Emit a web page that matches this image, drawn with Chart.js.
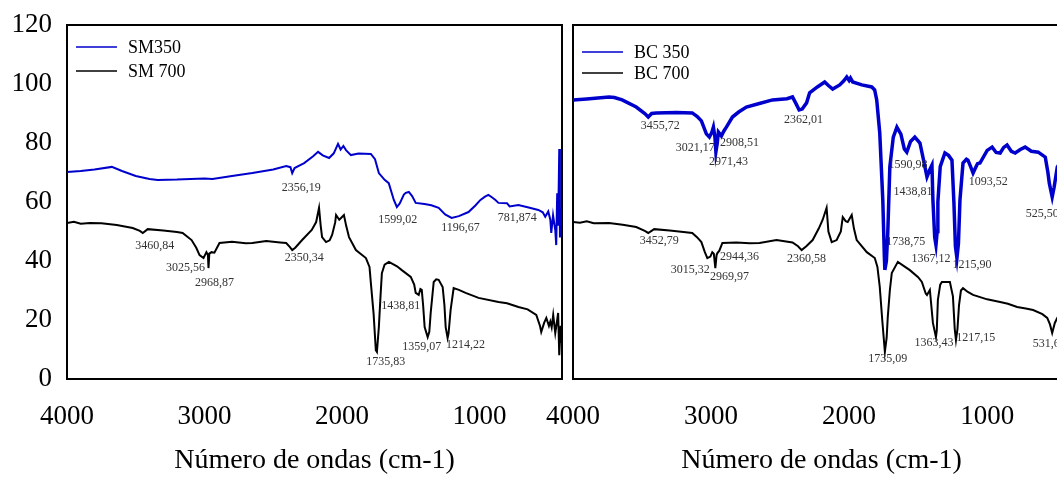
<!DOCTYPE html>
<html>
<head>
<meta charset="utf-8">
<script src="https://cdn.jsdelivr.net/npm/chart.js@4.4.1/dist/chart.umd.min.js"></script>
<style>
  html, body { margin: 0; padding: 0; background: #fff; overflow: hidden; }
  body { width: 1057px; height: 477px; position: relative; }
  #smChart { position: absolute; left: 0; top: 0; }
  #bcChart { position: absolute; left: 530px; top: 0; }
</style>
</head>
<body>
<canvas id="smChart" width="575" height="477"></canvas>
<canvas id="bcChart" width="560" height="477"></canvas>
<script>
const xTicks = [1000, 2000, 3000, 4000];
const yTicks = [0, 20, 40, 60, 80, 100, 120];
const axisTitle = "Número de ondas (cm-1)";

// SM350 (blue, left panel)
const sm350Wn = [4000, 3900, 3800, 3674, 3600, 3500, 3400, 3340, 3200, 3000, 2942, 2800, 2652, 2500, 2406, 2375, 2362, 2345, 2300, 2275, 2210, 2174, 2140, 2094, 2060, 2029, 2010, 1990, 1971, 1935, 1880, 1790, 1760, 1732, 1690, 1660, 1623, 1601, 1580, 1550, 1536, 1514, 1490, 1464, 1400, 1350, 1297, 1250, 1203, 1150, 1080, 1030, 993, 960, 935, 910, 884, 862, 800, 781, 717, 650, 572, 540, 522, 500, 485, 478, 465, 449, 442, 435, 428, 420, 415, 405, 400];
const sm350T = [70.2, 70.5, 71.0, 71.9, 70.5, 68.8, 67.8, 67.5, 67.6, 68.0, 67.8, 68.8, 69.8, 71.0, 72.2, 71.8, 69.8, 71.5, 72.6, 73.2, 75.5, 77.0, 75.8, 74.9, 76.5, 79.7, 77.8, 79.0, 77.6, 75.9, 76.4, 76.3, 74.5, 69.8, 67.5, 66.4, 60.7, 58.3, 59.5, 62.5, 63.1, 63.4, 62.0, 59.7, 59.3, 58.9, 58.0, 55.8, 54.6, 55.2, 56.6, 58.8, 60.7, 61.8, 62.4, 61.6, 60.7, 59.7, 59.6, 58.5, 59.0, 58.2, 57.3, 56.5, 55.0, 56.8, 54.0, 49.5, 55.5, 50.5, 45.4, 63.0, 52.0, 78.0, 48.0, 58.0, 52.0];

// SM 700 (black, left panel)
const sm700Wn = [4000, 3950, 3900, 3833, 3750, 3638, 3522, 3470, 3449, 3413, 3300, 3200, 3159, 3094, 3060, 3036, 3007, 2986, 2975, 2971, 2965, 2949, 2928, 2891, 2800, 2700, 2652, 2551, 2450, 2406, 2380, 2362, 2340, 2290, 2220, 2188, 2167, 2155, 2145, 2116, 2090, 2072, 2050, 2043, 2020, 2007, 1986, 1970, 1949, 1899, 1826, 1800, 1790, 1770, 1754, 1746, 1732, 1720, 1710, 1690, 1659, 1600, 1565, 1500, 1475, 1464, 1442, 1430, 1420, 1410, 1399, 1377, 1365, 1355, 1333, 1315, 1297, 1268, 1255, 1246, 1232, 1225, 1210, 1188, 1150, 1101, 1007, 862, 800, 717, 650, 587, 560, 551, 530, 514, 495, 485, 475, 464, 449, 435, 428, 420, 410, 400];
const sm700T = [52.9, 53.3, 52.6, 52.9, 52.8, 52.2, 51.2, 50.2, 49.5, 50.8, 50.3, 49.8, 49.5, 47.1, 44.5, 42.0, 41.0, 43.0, 42.0, 37.6, 42.5, 43.0, 42.8, 46.1, 46.5, 46.0, 46.1, 46.8, 46.3, 46.1, 44.8, 43.7, 44.5, 47.1, 50.5, 53.2, 58.0, 52.0, 48.1, 46.4, 47.0, 48.8, 53.0, 55.6, 54.0, 54.6, 55.6, 52.0, 48.1, 43.7, 41.0, 38.0, 32.5, 22.0, 9.8, 9.2, 17.6, 28.0, 35.9, 38.8, 39.7, 38.2, 36.9, 34.6, 32.0, 29.2, 28.5, 30.5, 30.2, 25.0, 17.6, 14.2, 16.0, 22.4, 32.9, 33.8, 33.6, 31.2, 25.0, 17.6, 13.9, 15.5, 23.4, 30.8, 30.2, 29.2, 27.5, 26.1, 25.7, 24.4, 23.6, 21.7, 18.0, 15.9, 19.0, 20.7, 18.0, 19.5, 17.5, 21.7, 15.6, 20.0, 22.4, 8.1, 18.0, 12.0];

// BC 350 (blue, right panel)
const bc350Wn = [4000, 3900, 3800, 3739, 3700, 3644, 3542, 3480, 3455, 3430, 3397, 3250, 3136, 3100, 3070, 3034, 3012, 2995, 2983, 2972, 2965, 2955, 2947, 2925, 2908, 2889, 2845, 2800, 2744, 2650, 2555, 2450, 2410, 2381, 2362, 2340, 2308, 2286, 2230, 2177, 2150, 2119, 2068, 2040, 2017, 2000, 1990, 1974, 1908, 1836, 1815, 1800, 1778, 1756, 1745, 1741, 1730, 1720, 1705, 1680, 1654, 1625, 1600, 1582, 1555, 1524, 1487, 1460, 1436, 1415, 1400, 1393, 1380, 1371, 1362, 1357, 1340, 1306, 1280, 1255, 1241, 1230, 1219, 1208, 1197, 1175, 1150, 1139, 1120, 1102, 1085, 1070, 1052, 1000, 964, 935, 906, 880, 856, 825, 797, 760, 725, 680, 630, 579, 560, 550, 529, 515, 492, 460, 430, 400];
const bc350T = [94.6, 94.9, 95.3, 95.6, 95.4, 94.6, 92.2, 90.0, 88.8, 90.0, 90.2, 90.3, 90.2, 89.0, 87.5, 83.1, 82.0, 83.5, 85.4, 82.0, 77.0, 80.0, 83.7, 82.4, 84.0, 85.4, 88.8, 90.5, 92.2, 93.4, 94.6, 95.0, 95.6, 93.0, 91.2, 91.5, 93.6, 97.0, 99.0, 100.7, 99.5, 98.3, 99.7, 101.0, 102.4, 101.2, 102.0, 100.7, 99.7, 99.0, 98.0, 94.6, 83.4, 60.7, 42.0, 37.0, 40.0, 49.5, 71.9, 82.0, 85.4, 83.0, 78.0, 76.9, 80.5, 82.0, 80.0, 74.0, 68.5, 71.0, 72.5, 60.7, 48.0, 45.4, 50.0, 60.0, 72.0, 76.6, 75.8, 74.2, 60.0, 45.0, 41.0, 46.0, 60.7, 73.2, 74.5, 74.2, 72.0, 69.8, 71.5, 73.0, 73.2, 77.5, 78.6, 76.8, 76.6, 78.5, 79.3, 77.2, 76.6, 77.8, 78.6, 77.2, 76.9, 75.2, 70.0, 66.4, 61.7, 65.0, 71.9, 74.0, 73.0, 74.0];

// BC 700 (black, right panel)
const bc700Wn = [4000, 3950, 3900, 3850, 3739, 3640, 3542, 3480, 3455, 3412, 3300, 3200, 3136, 3100, 3070, 3045, 3027, 3005, 2991, 2980, 2969, 2960, 2954, 2940, 2918, 2816, 2720, 2649, 2526, 2410, 2370, 2344, 2310, 2264, 2220, 2192, 2163, 2150, 2126, 2090, 2060, 2046, 2025, 2010, 1981, 1965, 1945, 1872, 1814, 1795, 1778, 1760, 1741, 1728, 1720, 1705, 1691, 1647, 1600, 1560, 1500, 1473, 1445, 1436, 1415, 1393, 1371, 1365, 1357, 1340, 1328, 1270, 1248, 1235, 1226, 1215, 1204, 1190, 1175, 1140, 1102, 1000, 906, 850, 783, 720, 667, 600, 565, 545, 529, 510, 492, 460, 430, 400];
const bc700T = [53.2, 53.0, 53.5, 52.8, 52.9, 52.3, 51.5, 50.2, 49.5, 50.8, 50.3, 49.8, 49.5, 48.0, 46.4, 43.0, 41.0, 41.5, 43.0, 42.5, 37.6, 42.0, 42.7, 43.5, 46.1, 46.3, 46.0, 46.1, 47.1, 46.3, 45.0, 43.7, 45.0, 47.1, 51.0, 53.9, 58.0, 50.0, 46.4, 47.1, 50.0, 54.9, 53.5, 53.2, 55.6, 51.0, 47.1, 43.0, 41.0, 38.0, 31.2, 20.0, 9.2, 14.0, 21.0, 30.0, 35.9, 39.7, 38.2, 36.9, 34.5, 32.9, 29.0, 28.5, 30.2, 19.0, 14.2, 16.5, 26.8, 32.0, 32.9, 32.9, 28.0, 17.0, 13.2, 17.0, 25.0, 30.0, 30.8, 29.5, 28.5, 27.0, 26.1, 25.5, 24.4, 23.9, 23.4, 22.0, 20.7, 18.5, 15.6, 19.0, 20.7, 20.5, 19.0, 19.5];

// peak labels: [text, wavenumber, transmittance]
const smPeaks = [
  ["2356,19", 2297, 64.7], ["1599,02", 1594, 53.9], ["1196,67", 1138, 51.2], ["781,874", 725, 54.6],
  ["3460,84", 3362, 45.1], ["3025,56", 3138, 37.6], ["2968,87", 2928, 32.5], ["2350,34", 2275, 41.0],
  ["1438,81", 1572, 24.7], ["1359,07", 1420, 10.8], ["1214,22", 1101, 11.5], ["1735,83", 1681, 5.8]
];
const bcPeaks = [
  ["3455,72", 3368, 85.8], ["3021,17", 3114, 78.3], ["2908,51", 2794, 80.0], ["2971,43", 2874, 73.6],
  ["2362,01", 2330, 87.8], ["1590,98", 1574, 72.5], ["1438,81", 1538, 63.4], ["1093,52", 993, 66.8],
  ["525,507", 579, 55.9], ["1738,75", 1589, 46.4], ["1367,12", 1407, 40.7], ["1215,90", 1110, 38.6],
  ["3452,79", 3375, 46.8], ["3015,32", 3150, 37.0], ["2944,36", 2794, 41.4], ["2969,97", 2867, 34.6],
  ["2360,58", 2308, 40.7], ["1363,43", 1386, 12.2], ["1217,15", 1082, 13.9], ["1735,09", 1720, 6.8],
  ["531,68", 550, 11.9]
];

const serif = "'Liberation Serif', 'Times New Roman', serif";
const blue = "#0000cc";

function toPoints(wn, t) {
  return wn.map((x, i) => ({ x, y: t[i] }));
}

function decorPlugin(peaks, legendTop) {
  return {
    id: "decor",
    beforeDatasetsDraw(chart) {
      const { ctx, chartArea: a } = chart;
      ctx.save();
      ctx.strokeStyle = "#000";
      ctx.lineWidth = 2;
      ctx.strokeRect(a.left, a.top, a.right - a.left, a.bottom - a.top);
      ctx.restore();
    },
    afterDatasetsDraw(chart) {
      const { ctx, chartArea: a, scales } = chart;
      ctx.save();
      ctx.font = "12px " + serif;
      ctx.fillStyle = "#333";
      ctx.textAlign = "center";
      ctx.textBaseline = "middle";
      peaks.forEach(([txt, wn, v]) => {
        ctx.fillText(txt, scales.x.getPixelForValue(wn), scales.y.getPixelForValue(v));
      });

      // legend inside the plot
      ctx.font = "18px " + serif;
      ctx.textAlign = "left";
      ctx.fillStyle = "#000";
      chart.data.datasets.forEach((ds, i) => {
        const y = a.top + legendTop[i];
        ctx.strokeStyle = ds.borderColor;
        ctx.lineWidth = 1.5;
        ctx.beginPath();
        ctx.moveTo(a.left + 9, y);
        ctx.lineTo(a.left + 50, y);
        ctx.stroke();
        ctx.fillText(ds.label, a.left + 61, y + 1);
      });
      ctx.restore();
    },
  };
}

function makeChart(id, datasets, peaks, opts) {
  return new Chart(document.getElementById(id), {
    type: "line",
    data: { datasets },
    options: {
      responsive: false,
      animation: false,
      layout: { padding: opts.padding },
      elements: { point: { radius: 0 }, line: { tension: 0 } },
      plugins: { legend: { display: false }, tooltip: { enabled: false } },
      scales: {
        x: {
          type: "linear",
          reverse: true,
          min: 400,
          max: 4000,
          afterBuildTicks: (s) => { s.ticks = xTicks.map((v) => ({ value: v })); },
          afterFit: (s) => { s.height = 98; },
          grid: { display: false, drawTicks: false },
          border: { display: false },
          ticks: {
            color: "#000",
            padding: 24,
            maxRotation: 0,
            font: { family: serif, size: 27, lineHeight: 1 },
            callback: (v) => String(v),
          },
          title: { display: true, text: axisTitle, color: "#000", padding: 0, font: { family: serif, size: 28 } },
        },
        y: {
          min: 0,
          max: 120,
          display: opts.showY,
          afterBuildTicks: (s) => { s.ticks = yTicks.map((v) => ({ value: v })); },
          afterFit: (s) => { if (opts.showY) s.width = 67; },
          grid: { display: false, drawTicks: false },
          border: { display: false },
          // small lineHeight keeps the top label from pushing the plot area down
          ticks: { color: "#000", padding: 15, font: { family: serif, size: 27, lineHeight: 0.3 } },
        },
      },
    },
    plugins: [decorPlugin(peaks, opts.legendTop)],
  });
}

makeChart(
  "smChart",
  [
    { label: "SM350", data: toPoints(sm350Wn, sm350T), borderColor: blue, borderWidth: 2 },
    { label: "SM 700", data: toPoints(sm700Wn, sm700T), borderColor: "#000", borderWidth: 2 },
  ],
  smPeaks,
  { showY: true, padding: { top: 25, right: 13, left: 0, bottom: 0 }, legendTop: [22, 46] }
);

makeChart(
  "bcChart",
  [
    { label: "BC 350", data: toPoints(bc350Wn, bc350T), borderColor: blue, borderWidth: 3.5 },
    { label: "BC 700", data: toPoints(bc700Wn, bc700T), borderColor: "#000", borderWidth: 2 },
  ],
  bcPeaks,
  { showY: false, padding: { top: 25, right: 20, left: 43, bottom: 0 }, legendTop: [27, 48] }
);
</script>
</body>
</html>
